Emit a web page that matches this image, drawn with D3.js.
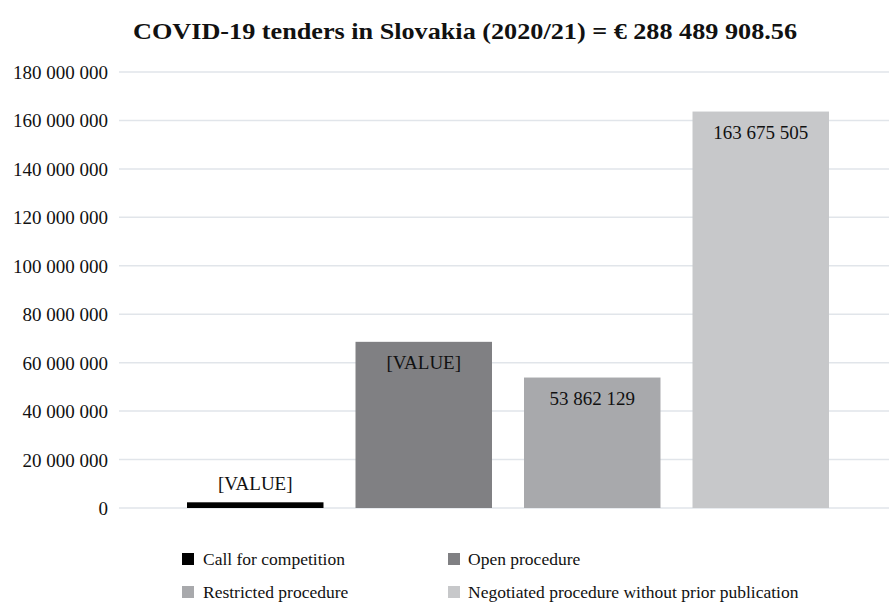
<!DOCTYPE html>
<html><head><meta charset="utf-8">
<script src="https://cdn.jsdelivr.net/npm/d3@7"></script>
<style>
html,body{margin:0;padding:0;background:#fff;}
text{font-family:"Liberation Serif","Times New Roman",serif;fill:#111;}
</style></head>
<body><svg id="c" width="889" height="602"></svg>
<script>
const categories = ["Call for competition","Open procedure","Restricted procedure","Negotiated procedure without prior publication"];
const values = [2350000, 68602274.56, 53862129, 163675505];
const barLabels = ["[VALUE]","[VALUE]","53 862 129","163 675 505"];
const colors = ["#000000","#808083","#a8a9ac","#c7c8ca"];
const yTicks = [0,20000000,40000000,60000000,80000000,100000000,120000000,140000000,160000000,180000000];
const title = "COVID-19 tenders in Slovakia (2020/21) = € 288 489 908.56";

const FONT = '"Liberation Serif","Times New Roman",serif';
const svg = d3.select("#c");
const fmt = d3.formatLocale({decimal:".", thousands:" ", grouping:[3], currency:["",""]}).format(",");

const y = d3.scaleLinear().domain([0,180000000]).range([508,72]);
const x = d3.scaleBand().domain(categories).range([171,845]).paddingInner(0.19).paddingOuter(0.095);

// title
svg.append("text").attr("x",465).attr("y",39).attr("text-anchor","middle")
  .attr("font-family",FONT).attr("font-weight","bold").attr("font-size","24px")
  .attr("textLength",664).attr("lengthAdjust","spacingAndGlyphs").text(title);

// gridlines
svg.append("g").selectAll("line").data(yTicks).join("line")
  .attr("x1",119).attr("x2",889).attr("y1",d=>y(d)).attr("y2",d=>y(d))
  .attr("stroke","#e1e5ea").attr("stroke-width",1.5);

// y axis labels
const yAxis = d3.axisLeft(y).tickValues(yTicks).tickFormat(fmt).tickSize(0).tickPadding(0);
const ax = svg.append("g").attr("transform","translate(108,0)").call(yAxis)
  .attr("font-family",FONT).attr("font-size","19px");
ax.select(".domain").remove();
ax.selectAll("text").attr("fill","#111").attr("dy","0.34em");

// bars
svg.selectAll("rect.bar").data(categories).join("rect").attr("class","bar")
  .attr("x",d=>x(d)).attr("width",x.bandwidth())
  .attr("y",(d,i)=>y(values[i])).attr("height",(d,i)=>y(0)-y(values[i]))
  .attr("fill",(d,i)=>colors[i]);

// bar labels
svg.selectAll("text.lbl").data(categories).join("text").attr("class","lbl")
  .attr("x",d=>x(d)+x.bandwidth()/2)
  .attr("y",(d,i)=>{const h=y(0)-y(values[i]); return h<30 ? y(values[i])-12 : y(values[i])+27;})
  .attr("text-anchor","middle").attr("font-family",FONT).attr("font-size","19px")
  .text((d,i)=>barLabels[i]);

// legend
const legPos = [[182,559],[448,559],[182,592],[448,592]];
const leg = svg.selectAll("g.leg").data(categories).join("g").attr("class","leg")
  .attr("transform",(d,i)=>`translate(${legPos[i][0]},${legPos[i][1]})`);
leg.append("rect").attr("x",0).attr("y",-6).attr("width",12).attr("height",12).attr("fill",(d,i)=>colors[i]);
leg.append("text").attr("x",(d,i)=> i%2===0 ? 21 : 20).attr("y",6)
  .attr("font-family",FONT).attr("font-size","17.5px").text(d=>d);
</script></body></html>
